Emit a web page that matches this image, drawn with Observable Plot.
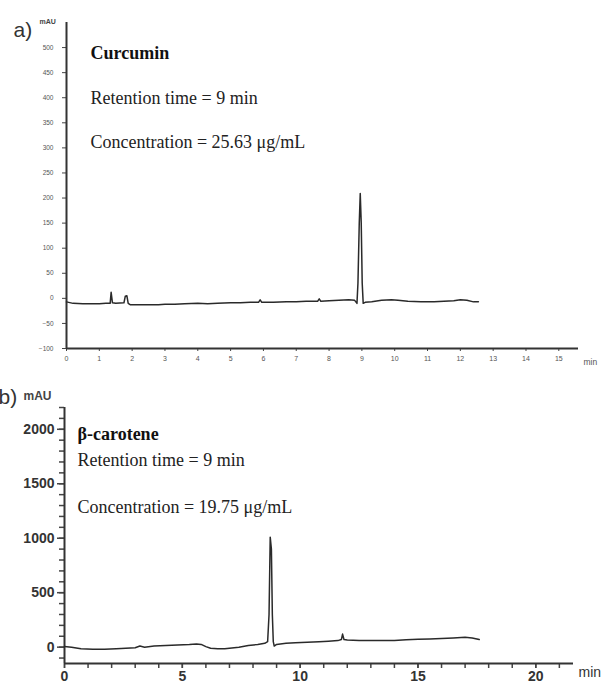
<!DOCTYPE html>
<html><head><meta charset="utf-8">
<script src="https://cdn.jsdelivr.net/npm/d3@7"></script>
<script src="https://cdn.jsdelivr.net/npm/@observablehq/plot@0.6"></script>
<style>
body{margin:0;background:#fff;}
#wrap{position:relative;width:603px;height:684px;overflow:hidden;background:#fff;}
#wrap svg{position:absolute;left:0;}
</style></head><body><div id="wrap"></div>
<script>
// Panel a) Curcumin chromatogram (min, mAU)
const curcuminTime = [0.0,0.2,0.5,0.8,1.0,1.2,1.33,1.36,1.40,1.5,1.75,1.79,1.84,1.88,1.95,2.2,2.5,2.8,3.0,3.3,3.6,4.0,4.3,4.6,5.0,5.3,5.6,5.85,5.9,5.95,6.3,6.7,7.0,7.3,7.65,7.7,7.75,8.0,8.3,8.6,8.78,8.85,8.88,8.92,8.95,8.98,9.01,9.04,9.1,9.3,9.6,9.9,10.1,10.4,10.8,11.2,11.5,11.8,12.0,12.2,12.4,12.55];
const curcuminMAU  = [-7,-10,-11,-11,-11,-10,-10,12,-9,-10,-9,4,5,-10,-13,-13,-13,-13,-12,-12,-11,-10,-11,-10,-9,-9,-8,-8,-3,-8,-8,-7,-7,-6,-6,-1,-6,-5,-4,-3,-4,-10,30,150,209,150,30,-10,-8,-7,-4,-3,-4,-6,-7,-7,-6,-5,-3,-4,-7,-7];
// Panel b) beta-carotene chromatogram (min, mAU)
const caroteneTime = [0.0,0.3,0.7,1.2,1.7,2.2,2.6,3.0,3.2,3.4,3.8,4.3,4.8,5.3,5.6,5.8,6.0,6.2,6.5,6.8,7.1,7.4,7.8,8.2,8.5,8.62,8.68,8.73,8.78,8.82,8.86,8.9,9.0,9.4,9.8,10.3,10.8,11.2,11.6,11.75,11.8,11.86,12.0,12.5,13.0,13.5,14.0,14.5,15.0,15.5,16.0,16.5,17.0,17.3,17.6];
const caroteneMAU  = [5,0,-15,-20,-20,-15,-10,-5,10,0,10,15,20,25,30,25,5,-10,-15,-15,-8,0,15,25,35,50,300,1010,900,300,50,10,25,35,40,45,50,55,60,70,120,70,65,60,60,60,62,68,72,75,80,85,90,85,70];

// Tick values
const topYTicks = [-100,-50,0,50,100,150,200,250,300,350,400,450,500];
const topXTicks = [0,1,2,3,4,5,6,7,8,9,10,11,12,13,14,15];
const botYTicks = [0,500,1000,1500,2000];
const botYMinor = [-100,0,100,200,300,400,500,600,700,800,900,1000,1100,1200,1300,1400,1500,1600,1700,1800,1900,2000,2100,2200];
const botXTicks = [0,5,10,15,20];
const botXMinor = [0,1,2,3,4,5,6,7,8,9,10,11,12,13,14,15,16,17,18,19,20,21];

// Labels
const topTitle = "Curcumin";
const topLines = ["Retention time = 9 min", "Concentration = 25.63 μg/mL"];
const botTitle = "β-carotene";
const botLines = ["Retention time = 9 min", "Concentration = 19.75 μg/mL"];

const curRows = curcuminTime.map((t, i) => ({t, v: curcuminMAU[i]}));
const carRows = caroteneTime.map((t, i) => ({t, v: caroteneMAU[i]}));

const serif = "'Liberation Serif', 'Times New Roman', serif";
const sans = "'Liberation Sans', Arial, sans-serif";
const wrap = document.getElementById("wrap");

function label(txt, opts) {
  return Plot.text([txt], Object.assign({text: d => d, textAnchor: "start", lineAnchor: "middle"}, opts));
}

const topPlot = Plot.plot({
  width: 603, height: 370,
  marginLeft: 66, marginRight: 25, marginTop: 22, marginBottom: 22,
  x: {domain: [0, 15.6]},
  y: {domain: [-100, 550]},
  style: {fontFamily: sans, background: "transparent", overflow: "visible"},
  marks: [
    Plot.axisY(topYTicks, {tickSize: 4, tickPadding: 9, fontSize: 6.5, fill: "#555", stroke: "#444", label: null}),
    Plot.axisX(topXTicks, {tickSize: 3, tickPadding: 5, fontSize: 7, fill: "#555", stroke: "#444", label: null}),
    Plot.ruleX([0], {stroke: "#333", strokeWidth: 2}),
    Plot.ruleY([-100], {stroke: "#333", strokeWidth: 2}),
    Plot.line(curRows, {x: "t", y: "v", stroke: "#2a2a2a", strokeWidth: 1.5}),
    label(topTitle, {frameAnchor: "top-left", dx: 24, dy: 31, fontSize: 18, fontWeight: "bold", fontFamily: serif, fill: "#111"}),
    label(topLines[0], {frameAnchor: "top-left", dx: 24, dy: 76, fontSize: 18, fontFamily: serif, fill: "#222"}),
    label(topLines[1], {frameAnchor: "top-left", dx: 24, dy: 120, fontSize: 18, fontFamily: serif, fill: "#222"}),
    label("a)", {frameAnchor: "top-left", dx: -53, dy: 8, fontSize: 21, fontFamily: sans, fill: "#333"}),
    label("mAU", {frameAnchor: "top-left", dx: -27, dy: -1, fontSize: 7, fontWeight: "bold", fontFamily: sans, fill: "#444"}),
    label("min", {frameAnchor: "bottom-right", dx: 5, dy: 14, fontSize: 8.5, fontFamily: sans, fill: "#555"})
  ]
});
topPlot.style.top = "0px";
wrap.appendChild(topPlot);

const botPlot = Plot.plot({
  width: 603, height: 314,
  marginLeft: 64, marginRight: 30, marginTop: 37, marginBottom: 21,
  x: {domain: [0, 21.6]},
  y: {domain: [-150, 2200]},
  style: {fontFamily: sans, background: "transparent", overflow: "visible"},
  marks: [
    Plot.axisY(botYMinor, {tickSize: 5, tickFormat: () => "", stroke: "#444", strokeWidth: 1.5, label: null}),
    Plot.axisY(botYTicks, {tickSize: 7, tickPadding: 3, tickFormat: d => String(d), fontSize: 14, fontWeight: "bold", fill: "#333", stroke: "#444", strokeWidth: 1.5, label: null}),
    Plot.axisX(botXMinor, {tickSize: 5, tickFormat: () => "", stroke: "#444", strokeWidth: 1.5, label: null}),
    Plot.axisX(botXTicks, {tickSize: 5, tickPadding: 3, tickFormat: d => String(d), fontSize: 14, fontWeight: "bold", fill: "#333", stroke: "#444", strokeWidth: 1.5, label: null}),
    Plot.ruleX([0], {stroke: "#333", strokeWidth: 2}),
    Plot.ruleY([-150], {stroke: "#333", strokeWidth: 2}),
    Plot.line(carRows, {x: "t", y: "v", stroke: "#2a2a2a", strokeWidth: 1.5}),
    label(botTitle, {frameAnchor: "top-left", dx: 13, dy: 27, fontSize: 18, fontWeight: "bold", fontFamily: serif, fill: "#111"}),
    label(botLines[0], {frameAnchor: "top-left", dx: 13, dy: 53, fontSize: 18, fontFamily: serif, fill: "#222"}),
    label(botLines[1], {frameAnchor: "top-left", dx: 13, dy: 100, fontSize: 18, fontFamily: serif, fill: "#222"}),
    label("b)", {frameAnchor: "top-left", dx: -66, dy: -10, fontSize: 21, fontFamily: sans, fill: "#333"}),
    label("mAU", {frameAnchor: "top-left", dx: -41, dy: -11, fontSize: 12, fontWeight: "bold", fontFamily: sans, fill: "#444"}),
    label("min", {frameAnchor: "bottom-right", dx: 5, dy: 9, fontSize: 14, fontFamily: sans, fill: "#333"})
  ]
});
botPlot.style.top = "370px";
wrap.appendChild(botPlot);
</script></body></html>
